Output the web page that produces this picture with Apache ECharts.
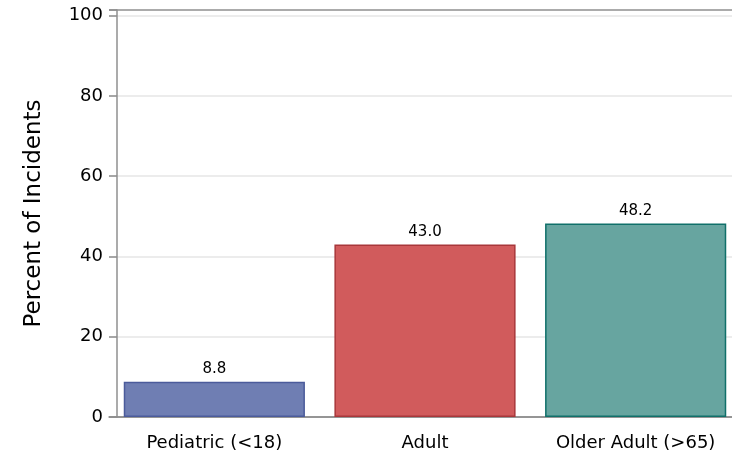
<!DOCTYPE html>
<html>
<head>
<meta charset="utf-8">
<script src="https://cdn.jsdelivr.net/npm/echarts@6/dist/echarts.min.js"></script>
<style>html,body{margin:0;padding:0;background:#fff}#c{width:732px;height:459px}</style>
</head>
<body>
<div id="c"></div>
<script>
var categories = ['Pediatric (<18)', 'Adult', 'Older Adult (>65)'];
var values = [8.8, 43.0, 48.2];
var fillColors = ['#6F7EB3', '#D15B5C', '#67A5A0'];
var borderColors = ['#4B5B9B', '#A8373A', '#10706A'];
var yTicks = [0, 20, 40, 60, 80, 100];

var chart = echarts.init(document.getElementById('c'), null, {renderer: 'canvas'});
var font = '"DejaVu Sans", Verdana, sans-serif';
chart.setOption({
  animation: false,
  backgroundColor: '#fff',
  grid: {left: 109, width: 632, top: 10, height: 407, containLabel: false, outerBoundsMode: 'none'},
  xAxis: {
    type: 'category',
    data: categories,
    axisLine: {lineStyle: {color: '#8F8F8F', width: 1.5}},
    axisTick: {alignWithLabel: true, length: 9, lineStyle: {color: '#8F8F8F', width: 1.5}},
    axisLabel: {color: '#000', fontSize: 18, fontFamily: font, margin: 17},
    splitLine: {show: false}
  },
  yAxis: {
    type: 'value',
    min: 0,
    max: 101.4,
    interval: 20,
    offset: -8,
    name: 'Percent of Incidents',
    nameLocation: 'middle',
    nameGap: 71,
    nameTextStyle: {color: '#000', fontSize: 23, fontFamily: font},
    axisLine: {show: true, lineStyle: {color: '#8F8F8F', width: 1.5}},
    axisTick: {show: true, length: 8, lineStyle: {color: '#8F8F8F', width: 1.5}},
    axisLabel: {
      color: '#000', fontSize: 18, fontFamily: font, margin: 14,
      formatter: function (v) { return yTicks.indexOf(v) >= 0 ? String(v) : ''; }
    },
    splitLine: {show: true, lineStyle: {
      color: ['#8F8F8F', '#E6E6E6', '#E6E6E6', '#E6E6E6', '#E6E6E6', '#E6E6E6', '#8F8F8F'],
      width: 1.5}}
  },
  series: [{
    type: 'bar',
    barWidth: '86%',
    data: values.map(function (v, i) {
      return {value: v, itemStyle: {color: fillColors[i], borderColor: borderColors[i], borderWidth: 1.5}};
    }),
    label: {
      show: true, position: 'top', distance: 5,
      color: '#000', fontSize: 15, fontFamily: font,
      formatter: function (p) { return p.value.toFixed(1); }
    }
  }]
});
</script>
</body>
</html>
